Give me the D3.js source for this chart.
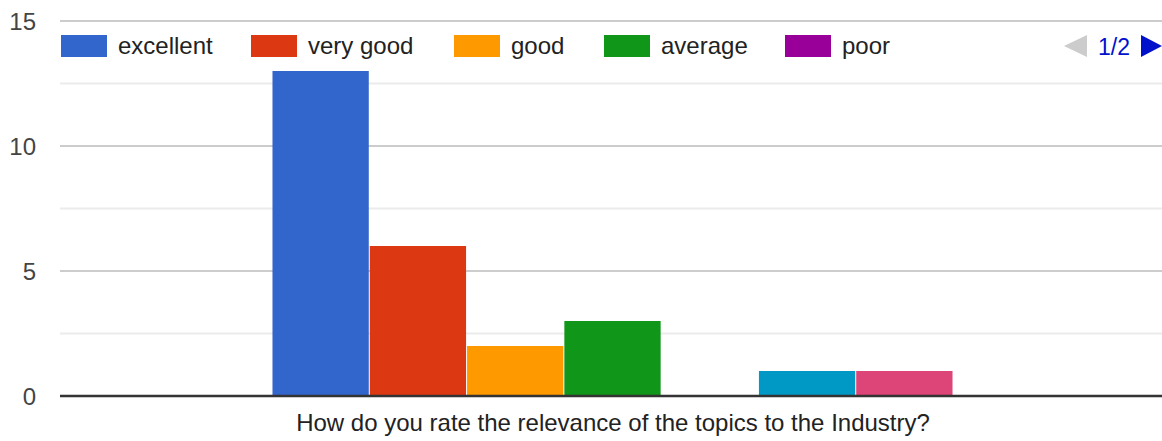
<!DOCTYPE html>
<html><head><meta charset="utf-8">
<script src="https://cdn.jsdelivr.net/npm/d3@7"></script>
<style>body{margin:0;background:#fff}svg{display:block}text{font-family:"Liberation Sans",Arial,sans-serif}</style>
</head><body><svg id="c" width="1162" height="441"></svg>
<script>
const category = "How do you rate the relevance of the topics to the Industry?";
const seriesNames = ["excellent","very good","good","average","poor","not applicable","no answer"];
const seriesValues = [13,6,2,3,0,1,1];
const seriesColors = ["#3366cc","#dc3912","#ff9900","#109618","#990099","#0099c6","#dd4477"];
const yTicks = [0,5,10,15];
const yMinor = [2.5,7.5,12.5];
const legendPage = "1/2";
const legendCount = 5;

(function(){
const svg = d3.select("#c");
const pLeft=60,pRight=1162,pTop=21,pBottom=396;
const y = d3.scaleLinear().domain([0,15]).range([pBottom,pTop]);
const x0 = d3.scaleBand().domain([category]).range([pLeft,1166]).paddingInner(0).paddingOuter(0.312);
const x1 = d3.scaleBand().domain(seriesNames).range([0,x0.bandwidth()]);

svg.append("g").selectAll("line").data(yMinor).join("line")
 .attr("x1",pLeft).attr("x2",pRight).attr("y1",d=>y(d)).attr("y2",d=>y(d))
 .attr("stroke","#ebebeb").attr("stroke-width",2);
svg.append("g").selectAll("line").data(yTicks.filter(d=>d>0)).join("line")
 .attr("x1",pLeft).attr("x2",pRight).attr("y1",d=>y(d)).attr("y2",d=>y(d))
 .attr("stroke","#cccccc").attr("stroke-width",2);

svg.append("g").selectAll("text").data(yTicks).join("text")
 .attr("x",36).attr("y",d=>y(d)+9).attr("text-anchor","end")
 .attr("font-size",24).attr("fill","#444").text(d=>d);

svg.append("g").selectAll("rect").data(seriesNames.map((n,i)=>({n,v:seriesValues[i],c:seriesColors[i]})).filter(d=>d.v>0)).join("rect")
 .attr("x",d=>x0(category)+x1(d.n)).attr("width",x1.bandwidth()-1)
 .attr("y",d=>y(d.v)).attr("height",d=>y(0)-y(d.v)).attr("fill",d=>d.c);

svg.append("line").attr("x1",pLeft).attr("x2",pRight).attr("y1",y(0)).attr("y2",y(0))
 .attr("stroke","#333").attr("stroke-width",2.3);

svg.append("text").attr("x",x0(category)+x0.bandwidth()/2).attr("y",431).attr("text-anchor","middle")
 .attr("font-size",24).attr("fill","#222").text(category);

const legX=[61,251,454,604,785];
const lg = svg.append("g").selectAll("g").data(seriesNames.slice(0,legendCount)).join("g")
 .attr("transform",(d,i)=>`translate(${legX[i]},35)`);
lg.append("rect").attr("width",46).attr("height",22).attr("fill",(d,i)=>seriesColors[i]);
lg.append("text").attr("x",57).attr("y",19).attr("font-size",24).attr("fill","#222").text(d=>d);

svg.append("path").attr("d","M1087,35 L1064,46 L1087,57 Z").attr("fill","#cccccc");
svg.append("text").attr("x",1114).attr("y",55).attr("text-anchor","middle").attr("font-size",23).attr("fill","#0011cc").text(legendPage);
svg.append("path").attr("d","M1141,35 L1162,46 L1141,57 Z").attr("fill","#0011cc");
})();
</script></body></html>
